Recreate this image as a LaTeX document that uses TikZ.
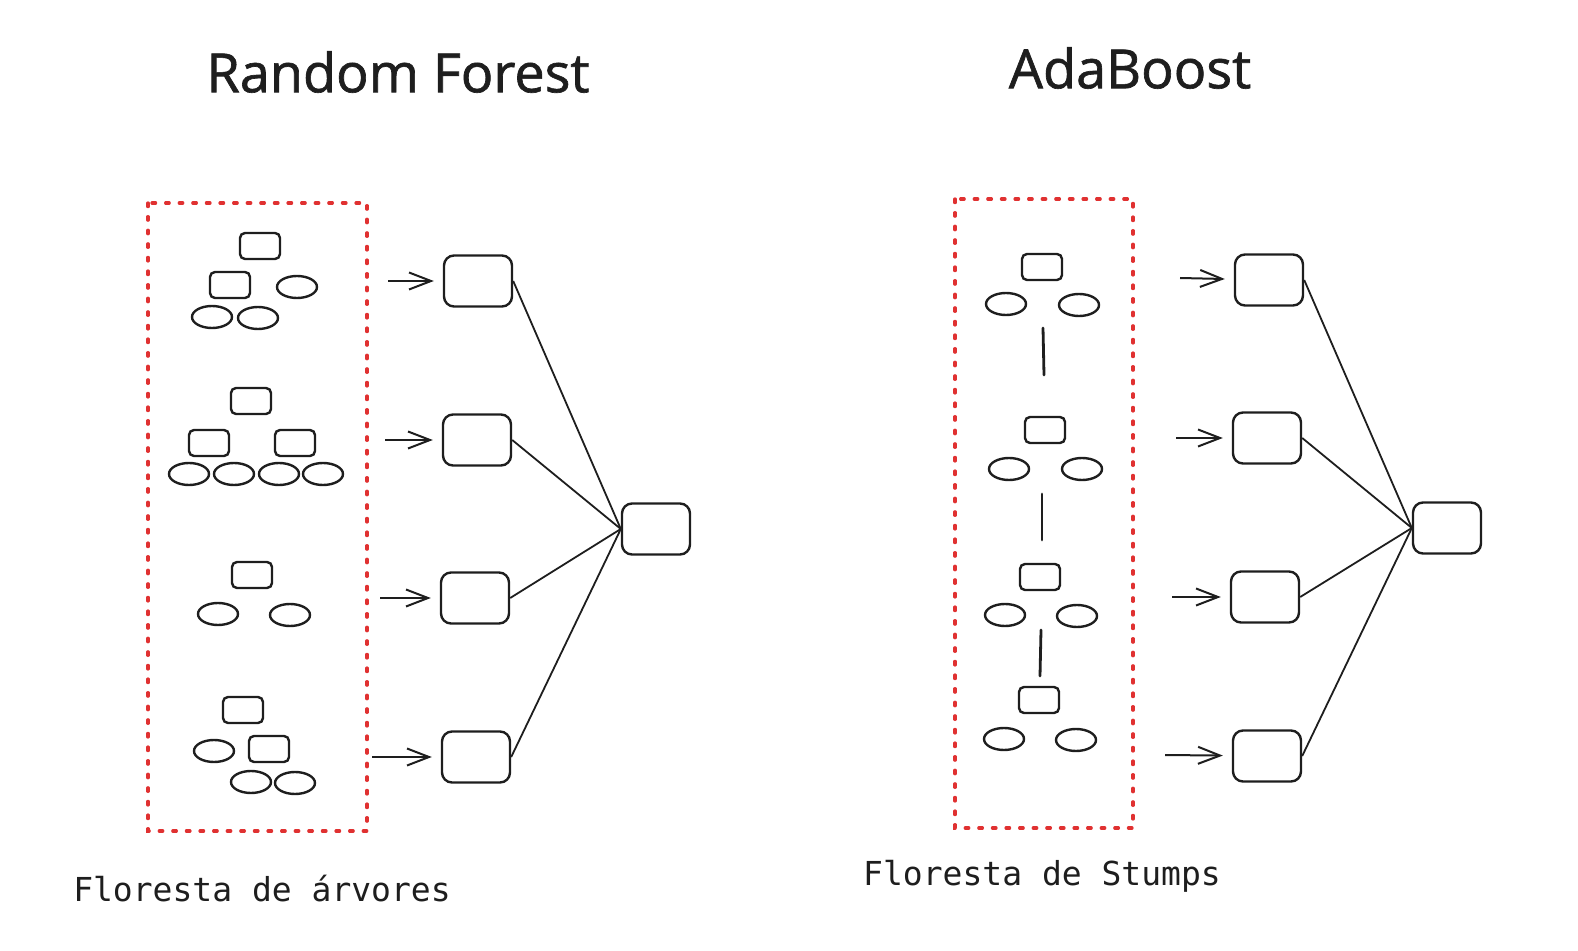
\documentclass[tikz,border=0pt]{standalone}
\usepackage{fontspec}
\setmainfont{Open Sans}
\setmonofont{DejaVu Sans Mono}
\newfontfamily\handfont[FakeBold=1.2]{Open Sans}
\usetikzlibrary{arrows.meta,positioning,shapes.geometric}
\definecolor{dotred}{HTML}{E03131}
\definecolor{ink}{HTML}{1E1E1E}

\begin{document}
\begin{tikzpicture}[x=0.5pt,y=-0.5pt,line width=1.2pt,draw=ink,
    leaf/.style={draw=ink,ellipse,minimum width=20pt,minimum height=11pt,inner sep=0pt},
    split/.style={draw=ink,rounded corners=2.5pt,minimum width=20pt,minimum height=13pt,inner sep=0pt},
    model/.style={draw=ink,rounded corners=5pt,minimum width=34pt,minimum height=25.5pt,inner sep=0pt},
    forest/.style={draw=dotred,line width=1.6pt,dash pattern=on 1.8pt off 5pt,line cap=round},
    title/.style={text=ink,font=\handfont\fontsize{27}{30}\selectfont},
    caption/.style={text=ink,font=\ttfamily\fontsize{16.5}{19}\selectfont},
    vote/.style={draw=ink,line width=0.9pt},
    feed/.style={draw=ink,-{Straight Barb[length=11pt,width=8.5pt,line width=1pt]},line width=1pt,shorten >=4.5pt}]
    \useasboundingbox (0,0) rectangle (1578,951);

    % Random Forest
    \node[title] (rf_title) at (398,72) {Random Forest};
    \draw[forest] (148,203) rectangle (367,831);

    \node[split] (t1_r) at (260,246) {};
    \node[split] (t1_a) at (230,285) {};
    \node[leaf]  (t1_b) at (297,287) {};
    \node[leaf]  (t1_c) at (212,317) {};
    \node[leaf]  (t1_d) at (258,318) {};

    \node[split] (t2_r) at (251,401) {};
    \node[split] (t2_a) at (209,443) {};
    \node[split] (t2_b) at (295,443) {};
    \node[leaf]  (t2_c) at (189,474) {};
    \node[leaf]  (t2_d) at (234,474) {};
    \node[leaf]  (t2_e) at (279,474) {};
    \node[leaf]  (t2_f) at (323,474) {};

    \node[split] (t3_r) at (252,575) {};
    \node[leaf]  (t3_a) at (218,614) {};
    \node[leaf]  (t3_b) at (290,615) {};

    \node[split] (t4_r) at (243,710) {};
    \node[leaf]  (t4_a) at (214,751) {};
    \node[split] (t4_b) at (269,749) {};
    \node[leaf]  (t4_c) at (251,782) {};
    \node[leaf]  (t4_d) at (295,783) {};

    \node[model] (rf_m1) at (478,281) {};
    \node[model] (rf_m2) at (477,440) {};
    \node[model] (rf_m3) at (475,598) {};
    \node[model] (rf_m4) at (476,757) {};
    \node[model] (rf_out) at (656,529) {};

    \coordinate (rf_a1) at (388,281);
    \coordinate (rf_a2) at (385,440);
    \coordinate (rf_a3) at (380,598);
    \coordinate (rf_a4) at (372,757);

    \foreach \i in {1,...,4} {
        \draw[feed] (rf_a\i) -- (rf_m\i);
        \draw[vote] (rf_m\i.east) -- (rf_out.west);
    }

    \node[caption] (rf_label) at (262,889) {Floresta de árvores};

    % AdaBoost
    \node[title] (ab_title) at (1130,68) {AdaBoost};
    \draw[forest] (955,199) rectangle (1133,828);

    \node[split] (s1_r) at (1042,267) {};
    \node[leaf]  (s1_a) at (1006,304) {};
    \node[leaf]  (s1_b) at (1079,305) {};

    \node[split] (s2_r) at (1045,430) {};
    \node[leaf]  (s2_a) at (1009,469) {};
    \node[leaf]  (s2_b) at (1082,469) {};

    \node[split] (s3_r) at (1040,577) {};
    \node[leaf]  (s3_a) at (1005,615) {};
    \node[leaf]  (s3_b) at (1077,616) {};

    \node[split] (s4_r) at (1039,700) {};
    \node[leaf]  (s4_a) at (1004,739) {};
    \node[leaf]  (s4_b) at (1076,740) {};

    \draw[line width=1.4pt,line cap=round] (1043,328) -- (1044,375);
    \draw[line width=1.4pt,line cap=round] (1042,494) -- (1042,540);
    \draw[line width=1.4pt,line cap=round] (1041,630) -- (1040,676);

    \node[model] (ab_m1) at (1269,280) {};
    \node[model] (ab_m2) at (1267,438) {};
    \node[model] (ab_m3) at (1265,597) {};
    \node[model] (ab_m4) at (1267,756) {};
    \node[model] (ab_out) at (1447,528) {};

    \coordinate (ab_a1) at (1180,278);
    \coordinate (ab_a2) at (1176,438);
    \coordinate (ab_a3) at (1172,597);
    \coordinate (ab_a4) at (1165,755);

    \foreach \i in {1,...,4} {
        \draw[feed] (ab_a\i) -- (ab_m\i);
        \draw[vote] (ab_m\i.east) -- (ab_out.west);
    }

    \node[caption] (ab_label) at (1042,876) {Floresta de Stumps};
\end{tikzpicture}
\end{document}
